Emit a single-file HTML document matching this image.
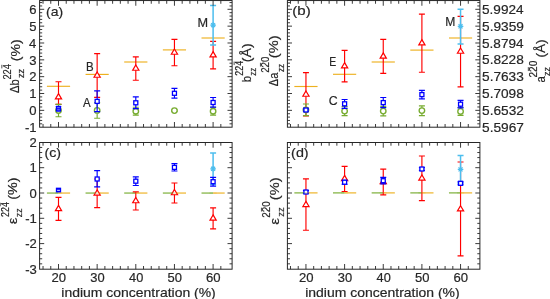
<!DOCTYPE html>
<html><head><meta charset="utf-8"><title>chart</title><style>html,body{margin:0;padding:0;background:#fff;}body{width:550px;height:299px;overflow:hidden;position:relative;font-family:"Liberation Sans", sans-serif;}</style></head><body>
<svg width="550" height="299" viewBox="0 0 550 299" style="position:absolute;left:0;top:0;will-change:transform" font-family='"Liberation Sans", sans-serif' fill="#262626">
<style>text{stroke:#262626;stroke-width:0.18px;}</style>
<rect width="550" height="299" fill="#fff"/>
<path d="M46.90 86.30H70.10" stroke="#edb120" stroke-width="1.15"/>
<path d="M85.55 74.40H108.75" stroke="#edb120" stroke-width="1.15"/>
<path d="M124.20 62.00H147.40" stroke="#edb120" stroke-width="1.15"/>
<path d="M162.85 49.90H186.05" stroke="#edb120" stroke-width="1.15"/>
<path d="M201.50 38.00H224.70" stroke="#edb120" stroke-width="1.15"/>
<path d="M58.50 81.70V104.30M55.50 81.70h6.0M55.50 104.30h6.0" stroke="#ff0000" stroke-width="1.15" fill="none"/>
<path d="M97.15 53.60V97.40M94.15 53.60h6.0M94.15 97.40h6.0" stroke="#ff0000" stroke-width="1.15" fill="none"/>
<path d="M135.80 56.80V80.20M132.80 56.80h6.0M132.80 80.20h6.0" stroke="#ff0000" stroke-width="1.15" fill="none"/>
<path d="M174.45 39.40V65.70M171.45 39.40h6.0M171.45 65.70h6.0" stroke="#ff0000" stroke-width="1.15" fill="none"/>
<path d="M213.10 41.40V68.90M210.10 41.40h6.0M210.10 68.90h6.0" stroke="#ff0000" stroke-width="1.15" fill="none"/>
<path d="M58.50 93.63L61.60 98.83H55.40Z" stroke="#ff0000" stroke-width="1.2" fill="#fff" stroke-linejoin="miter"/>
<path d="M97.15 72.03L100.25 77.23H94.05Z" stroke="#ff0000" stroke-width="1.2" fill="#fff" stroke-linejoin="miter"/>
<path d="M135.80 65.03L138.90 70.23H132.70Z" stroke="#ff0000" stroke-width="1.2" fill="#fff" stroke-linejoin="miter"/>
<path d="M174.45 49.03L177.55 54.23H171.35Z" stroke="#ff0000" stroke-width="1.2" fill="#fff" stroke-linejoin="miter"/>
<path d="M213.10 51.68L216.20 56.88H210.00Z" stroke="#ff0000" stroke-width="1.2" fill="#fff" stroke-linejoin="miter"/>
<path d="M213.10 5.50V44.90M210.10 5.50h6.0M210.10 44.90h6.0" stroke="#4dbeee" stroke-width="1.5" fill="none"/>
<path d="M210.30 25.10h5.60M213.10 22.30v5.60M211.08 23.08l4.03 4.03M211.08 27.12l4.03 -4.03" stroke="#4dbeee" stroke-width="1.2"/>
<path d="M58.50 104.30V116.70M55.50 104.30h6.0M55.50 116.70h6.0" stroke="#77ac30" stroke-width="1.15" fill="none"/>
<circle cx="58.50" cy="110.50" r="2.75" stroke="#77ac30" stroke-width="1.35" fill="#fff"/>
<path d="M97.15 102.60V118.20M94.15 102.60h6.0M94.15 118.20h6.0" stroke="#77ac30" stroke-width="1.15" fill="none"/>
<circle cx="97.15" cy="110.40" r="2.75" stroke="#77ac30" stroke-width="1.35" fill="#fff"/>
<path d="M135.80 107.20V115.10M132.80 107.20h6.0M132.80 115.10h6.0" stroke="#77ac30" stroke-width="1.15" fill="none"/>
<circle cx="135.80" cy="111.20" r="2.75" stroke="#77ac30" stroke-width="1.35" fill="#fff"/>
<path d="M174.45 109.80V111.40M171.45 109.80h6.0M171.45 111.40h6.0" stroke="#77ac30" stroke-width="1.15" fill="none"/>
<circle cx="174.45" cy="110.60" r="2.75" stroke="#77ac30" stroke-width="1.35" fill="#fff"/>
<path d="M213.10 107.20V115.10M210.10 107.20h6.0M210.10 115.10h6.0" stroke="#77ac30" stroke-width="1.15" fill="none"/>
<circle cx="213.10" cy="111.20" r="2.75" stroke="#77ac30" stroke-width="1.35" fill="#fff"/>
<rect x="55.85" y="105.70" width="5.3" height="6.0" rx="0.6" fill="#0000ff"/>
<path d="M57.20 107.70h2.6M57.20 109.80h2.6" stroke="#a0a0ff" stroke-width="0.8"/>
<path d="M97.15 90.80V111.60M94.15 90.80h6.0M94.15 111.60h6.0" stroke="#0000ff" stroke-width="1.15" fill="none"/>
<rect x="95.15" y="99.40" width="4.0" height="4.0" stroke="#0000ff" stroke-width="1.3" fill="#fff"/>
<path d="M135.80 96.80V108.60M132.80 96.80h6.0M132.80 108.60h6.0" stroke="#0000ff" stroke-width="1.15" fill="none"/>
<rect x="133.80" y="100.80" width="4.0" height="4.0" stroke="#0000ff" stroke-width="1.3" fill="#fff"/>
<path d="M174.45 88.40V98.10M171.45 88.40h6.0M171.45 98.10h6.0" stroke="#0000ff" stroke-width="1.15" fill="none"/>
<rect x="172.45" y="91.30" width="4.0" height="4.0" stroke="#0000ff" stroke-width="1.3" fill="#fff"/>
<path d="M213.10 97.50V107.10M210.10 97.50h6.0M210.10 107.10h6.0" stroke="#0000ff" stroke-width="1.15" fill="none"/>
<rect x="211.10" y="100.50" width="4.0" height="4.0" stroke="#0000ff" stroke-width="1.3" fill="#fff"/>
<rect x="39.6" y="0.55" width="192.50" height="126.65" fill="none" stroke="#262626" stroke-width="1.0"/>
<path d="M43.04 127.20v-3.2M43.04 0.55v3.2M50.77 127.20v-3.2M50.77 0.55v3.2M58.50 127.20v-5.2M58.50 0.55v5.2M66.23 127.20v-3.2M66.23 0.55v3.2M73.96 127.20v-3.2M73.96 0.55v3.2M81.69 127.20v-3.2M81.69 0.55v3.2M89.42 127.20v-3.2M89.42 0.55v3.2M97.15 127.20v-5.2M97.15 0.55v5.2M104.88 127.20v-3.2M104.88 0.55v3.2M112.61 127.20v-3.2M112.61 0.55v3.2M120.34 127.20v-3.2M120.34 0.55v3.2M128.07 127.20v-3.2M128.07 0.55v3.2M135.80 127.20v-5.2M135.80 0.55v5.2M143.53 127.20v-3.2M143.53 0.55v3.2M151.26 127.20v-3.2M151.26 0.55v3.2M158.99 127.20v-3.2M158.99 0.55v3.2M166.72 127.20v-3.2M166.72 0.55v3.2M174.45 127.20v-5.2M174.45 0.55v5.2M182.18 127.20v-3.2M182.18 0.55v3.2M189.91 127.20v-3.2M189.91 0.55v3.2M197.64 127.20v-3.2M197.64 0.55v3.2M205.37 127.20v-3.2M205.37 0.55v3.2M213.10 127.20v-5.2M213.10 0.55v5.2M220.83 127.20v-3.2M220.83 0.55v3.2M39.60 123.82h2.6M232.10 123.82h-2.6M39.60 120.45h2.6M232.10 120.45h-2.6M39.60 117.09h2.6M232.10 117.09h-2.6M39.60 113.72h2.6M232.10 113.72h-2.6M39.60 110.35h4.6M232.10 110.35h-4.6M39.60 106.98h2.6M232.10 106.98h-2.6M39.60 103.61h2.6M232.10 103.61h-2.6M39.60 100.25h2.6M232.10 100.25h-2.6M39.60 96.88h2.6M232.10 96.88h-2.6M39.60 93.51h4.6M232.10 93.51h-4.6M39.60 90.14h2.6M232.10 90.14h-2.6M39.60 86.77h2.6M232.10 86.77h-2.6M39.60 83.41h2.6M232.10 83.41h-2.6M39.60 80.04h2.6M232.10 80.04h-2.6M39.60 76.67h4.6M232.10 76.67h-4.6M39.60 73.30h2.6M232.10 73.30h-2.6M39.60 69.93h2.6M232.10 69.93h-2.6M39.60 66.57h2.6M232.10 66.57h-2.6M39.60 63.20h2.6M232.10 63.20h-2.6M39.60 59.83h4.6M232.10 59.83h-4.6M39.60 56.46h2.6M232.10 56.46h-2.6M39.60 53.09h2.6M232.10 53.09h-2.6M39.60 49.73h2.6M232.10 49.73h-2.6M39.60 46.36h2.6M232.10 46.36h-2.6M39.60 42.99h4.6M232.10 42.99h-4.6M39.60 39.62h2.6M232.10 39.62h-2.6M39.60 36.25h2.6M232.10 36.25h-2.6M39.60 32.89h2.6M232.10 32.89h-2.6M39.60 29.52h2.6M232.10 29.52h-2.6M39.60 26.15h4.6M232.10 26.15h-4.6M39.60 22.78h2.6M232.10 22.78h-2.6M39.60 19.41h2.6M232.10 19.41h-2.6M39.60 16.05h2.6M232.10 16.05h-2.6M39.60 12.68h2.6M232.10 12.68h-2.6M39.60 9.31h4.6M232.10 9.31h-4.6M39.60 5.94h2.6M232.10 5.94h-2.6M39.60 2.57h2.6M232.10 2.57h-2.6" stroke="#262626" stroke-width="0.9" fill="none"/>
<path d="M294.35 86.50H317.55" stroke="#edb120" stroke-width="1.15"/>
<path d="M333.00 74.30H356.20" stroke="#edb120" stroke-width="1.15"/>
<path d="M371.65 62.00H394.85" stroke="#edb120" stroke-width="1.15"/>
<path d="M410.30 50.10H433.50" stroke="#edb120" stroke-width="1.15"/>
<path d="M448.95 38.00H472.15" stroke="#edb120" stroke-width="1.15"/>
<path d="M305.95 72.60V116.00M302.95 72.60h6.0M302.95 116.00h6.0" stroke="#ff0000" stroke-width="1.15" fill="none"/>
<path d="M344.60 50.40V81.80M341.60 50.40h6.0M341.60 81.80h6.0" stroke="#ff0000" stroke-width="1.15" fill="none"/>
<path d="M383.25 39.40V73.40M380.25 39.40h6.0M380.25 73.40h6.0" stroke="#ff0000" stroke-width="1.15" fill="none"/>
<path d="M421.90 14.10V72.20M418.90 14.10h6.0M418.90 72.20h6.0" stroke="#ff0000" stroke-width="1.15" fill="none"/>
<path d="M460.55 16.30V86.80M457.55 16.30h6.0M457.55 86.80h6.0" stroke="#ff0000" stroke-width="1.15" fill="none"/>
<path d="M305.95 91.03L309.05 96.23H302.85Z" stroke="#ff0000" stroke-width="1.2" fill="#fff" stroke-linejoin="miter"/>
<path d="M344.60 62.63L347.70 67.83H341.50Z" stroke="#ff0000" stroke-width="1.2" fill="#fff" stroke-linejoin="miter"/>
<path d="M383.25 52.93L386.35 58.13H380.15Z" stroke="#ff0000" stroke-width="1.2" fill="#fff" stroke-linejoin="miter"/>
<path d="M421.90 39.68L425.00 44.88H418.80Z" stroke="#ff0000" stroke-width="1.2" fill="#fff" stroke-linejoin="miter"/>
<path d="M460.55 48.03L463.65 53.23H457.45Z" stroke="#ff0000" stroke-width="1.2" fill="#fff" stroke-linejoin="miter"/>
<path d="M460.55 9.30V43.90M457.55 9.30h6.0M457.55 43.90h6.0" stroke="#4dbeee" stroke-width="1.5" fill="none"/>
<path d="M457.75 26.30h5.60M460.55 23.50v5.60M458.53 24.28l4.03 4.03M458.53 28.32l4.03 -4.03" stroke="#4dbeee" stroke-width="1.2"/>
<path d="M305.95 104.00V115.60M302.95 104.00h6.0M302.95 115.60h6.0" stroke="#77ac30" stroke-width="1.15" fill="none"/>
<circle cx="305.95" cy="109.80" r="2.75" stroke="#77ac30" stroke-width="1.35" fill="#fff"/>
<path d="M344.60 106.60V115.60M341.60 106.60h6.0M341.60 115.60h6.0" stroke="#77ac30" stroke-width="1.15" fill="none"/>
<circle cx="344.60" cy="111.10" r="2.75" stroke="#77ac30" stroke-width="1.35" fill="#fff"/>
<path d="M383.25 106.30V115.90M380.25 106.30h6.0M380.25 115.90h6.0" stroke="#77ac30" stroke-width="1.15" fill="none"/>
<circle cx="383.25" cy="111.10" r="2.75" stroke="#77ac30" stroke-width="1.35" fill="#fff"/>
<path d="M421.90 105.80V115.60M418.90 105.80h6.0M418.90 115.60h6.0" stroke="#77ac30" stroke-width="1.15" fill="none"/>
<circle cx="421.90" cy="110.60" r="2.75" stroke="#77ac30" stroke-width="1.35" fill="#fff"/>
<path d="M460.55 107.50V115.30M457.55 107.50h6.0M457.55 115.30h6.0" stroke="#77ac30" stroke-width="1.15" fill="none"/>
<circle cx="460.55" cy="111.40" r="2.75" stroke="#77ac30" stroke-width="1.35" fill="#fff"/>
<path d="M305.95 108.80V111.20M302.95 108.80h6.0M302.95 111.20h6.0" stroke="#0000ff" stroke-width="1.15" fill="none"/>
<rect x="303.95" y="108.00" width="4.0" height="4.0" stroke="#0000ff" stroke-width="1.3" fill="#fff"/>
<path d="M344.60 99.50V108.30M341.60 99.50h6.0M341.60 108.30h6.0" stroke="#0000ff" stroke-width="1.15" fill="none"/>
<rect x="342.60" y="101.80" width="4.0" height="4.0" stroke="#0000ff" stroke-width="1.3" fill="#fff"/>
<path d="M383.25 97.50V107.60M380.25 97.50h6.0M380.25 107.60h6.0" stroke="#0000ff" stroke-width="1.15" fill="none"/>
<rect x="381.25" y="100.60" width="4.0" height="4.0" stroke="#0000ff" stroke-width="1.3" fill="#fff"/>
<path d="M421.90 90.30V98.80M418.90 90.30h6.0M418.90 98.80h6.0" stroke="#0000ff" stroke-width="1.15" fill="none"/>
<rect x="419.90" y="92.60" width="4.0" height="4.0" stroke="#0000ff" stroke-width="1.3" fill="#fff"/>
<path d="M460.55 100.40V107.80M457.55 100.40h6.0M457.55 107.80h6.0" stroke="#0000ff" stroke-width="1.15" fill="none"/>
<rect x="458.55" y="102.20" width="4.0" height="4.0" stroke="#0000ff" stroke-width="1.3" fill="#fff"/>
<rect x="287.4" y="0.55" width="192.50" height="126.65" fill="none" stroke="#262626" stroke-width="1.0"/>
<path d="M290.49 127.20v-3.2M290.49 0.55v3.2M298.22 127.20v-3.2M298.22 0.55v3.2M305.95 127.20v-5.2M305.95 0.55v5.2M313.68 127.20v-3.2M313.68 0.55v3.2M321.41 127.20v-3.2M321.41 0.55v3.2M329.14 127.20v-3.2M329.14 0.55v3.2M336.87 127.20v-3.2M336.87 0.55v3.2M344.60 127.20v-5.2M344.60 0.55v5.2M352.33 127.20v-3.2M352.33 0.55v3.2M360.06 127.20v-3.2M360.06 0.55v3.2M367.79 127.20v-3.2M367.79 0.55v3.2M375.52 127.20v-3.2M375.52 0.55v3.2M383.25 127.20v-5.2M383.25 0.55v5.2M390.98 127.20v-3.2M390.98 0.55v3.2M398.71 127.20v-3.2M398.71 0.55v3.2M406.44 127.20v-3.2M406.44 0.55v3.2M414.17 127.20v-3.2M414.17 0.55v3.2M421.90 127.20v-5.2M421.90 0.55v5.2M429.63 127.20v-3.2M429.63 0.55v3.2M437.36 127.20v-3.2M437.36 0.55v3.2M445.09 127.20v-3.2M445.09 0.55v3.2M452.82 127.20v-3.2M452.82 0.55v3.2M460.55 127.20v-5.2M460.55 0.55v5.2M468.28 127.20v-3.2M468.28 0.55v3.2M287.40 123.82h2.6M479.90 123.82h-2.6M287.40 120.45h2.6M479.90 120.45h-2.6M287.40 117.09h2.6M479.90 117.09h-2.6M287.40 113.72h2.6M479.90 113.72h-2.6M287.40 110.35h4.6M479.90 110.35h-4.6M287.40 106.98h2.6M479.90 106.98h-2.6M287.40 103.61h2.6M479.90 103.61h-2.6M287.40 100.25h2.6M479.90 100.25h-2.6M287.40 96.88h2.6M479.90 96.88h-2.6M287.40 93.51h4.6M479.90 93.51h-4.6M287.40 90.14h2.6M479.90 90.14h-2.6M287.40 86.77h2.6M479.90 86.77h-2.6M287.40 83.41h2.6M479.90 83.41h-2.6M287.40 80.04h2.6M479.90 80.04h-2.6M287.40 76.67h4.6M479.90 76.67h-4.6M287.40 73.30h2.6M479.90 73.30h-2.6M287.40 69.93h2.6M479.90 69.93h-2.6M287.40 66.57h2.6M479.90 66.57h-2.6M287.40 63.20h2.6M479.90 63.20h-2.6M287.40 59.83h4.6M479.90 59.83h-4.6M287.40 56.46h2.6M479.90 56.46h-2.6M287.40 53.09h2.6M479.90 53.09h-2.6M287.40 49.73h2.6M479.90 49.73h-2.6M287.40 46.36h2.6M479.90 46.36h-2.6M287.40 42.99h4.6M479.90 42.99h-4.6M287.40 39.62h2.6M479.90 39.62h-2.6M287.40 36.25h2.6M479.90 36.25h-2.6M287.40 32.89h2.6M479.90 32.89h-2.6M287.40 29.52h2.6M479.90 29.52h-2.6M287.40 26.15h4.6M479.90 26.15h-4.6M287.40 22.78h2.6M479.90 22.78h-2.6M287.40 19.41h2.6M479.90 19.41h-2.6M287.40 16.05h2.6M479.90 16.05h-2.6M287.40 12.68h2.6M479.90 12.68h-2.6M287.40 9.31h4.6M479.90 9.31h-4.6M287.40 5.94h2.6M479.90 5.94h-2.6M287.40 2.57h2.6M479.90 2.57h-2.6" stroke="#262626" stroke-width="0.9" fill="none"/>
<path d="M46.90 193.05H58.50" stroke="#77ac30" stroke-width="1.15"/>
<path d="M58.50 193.05H70.10" stroke="#edb120" stroke-width="1.15"/>
<path d="M85.55 193.05H97.15" stroke="#77ac30" stroke-width="1.15"/>
<path d="M97.15 193.05H108.75" stroke="#edb120" stroke-width="1.15"/>
<path d="M124.20 193.05H135.80" stroke="#77ac30" stroke-width="1.15"/>
<path d="M135.80 193.05H147.40" stroke="#edb120" stroke-width="1.15"/>
<path d="M162.85 193.05H174.45" stroke="#77ac30" stroke-width="1.15"/>
<path d="M174.45 193.05H186.05" stroke="#edb120" stroke-width="1.15"/>
<path d="M201.50 193.05H213.10" stroke="#77ac30" stroke-width="1.15"/>
<path d="M213.10 193.05H224.70" stroke="#edb120" stroke-width="1.15"/>
<path d="M58.50 197.30V220.40M55.50 197.30h6.0M55.50 220.40h6.0" stroke="#ff0000" stroke-width="1.15" fill="none"/>
<path d="M97.15 179.00V207.60M94.15 179.00h6.0M94.15 207.60h6.0" stroke="#ff0000" stroke-width="1.15" fill="none"/>
<path d="M135.80 191.90V210.00M132.80 191.90h6.0M132.80 210.00h6.0" stroke="#ff0000" stroke-width="1.15" fill="none"/>
<path d="M174.45 183.00V203.00M171.45 183.00h6.0M171.45 203.00h6.0" stroke="#ff0000" stroke-width="1.15" fill="none"/>
<path d="M213.10 207.80V228.90M210.10 207.80h6.0M210.10 228.90h6.0" stroke="#ff0000" stroke-width="1.15" fill="none"/>
<path d="M58.50 205.38L61.60 210.58H55.40Z" stroke="#ff0000" stroke-width="1.2" fill="#fff" stroke-linejoin="miter"/>
<path d="M97.15 189.83L100.25 195.03H94.05Z" stroke="#ff0000" stroke-width="1.2" fill="#fff" stroke-linejoin="miter"/>
<path d="M135.80 197.53L138.90 202.73H132.70Z" stroke="#ff0000" stroke-width="1.2" fill="#fff" stroke-linejoin="miter"/>
<path d="M174.45 189.53L177.55 194.73H171.35Z" stroke="#ff0000" stroke-width="1.2" fill="#fff" stroke-linejoin="miter"/>
<path d="M213.10 214.88L216.20 220.08H210.00Z" stroke="#ff0000" stroke-width="1.2" fill="#fff" stroke-linejoin="miter"/>
<path d="M213.10 153.00V184.60M210.10 153.00h6.0M210.10 184.60h6.0" stroke="#4dbeee" stroke-width="1.5" fill="none"/>
<path d="M210.30 168.80h5.60M213.10 166.00v5.60M211.08 166.78l4.03 4.03M211.08 170.82l4.03 -4.03" stroke="#4dbeee" stroke-width="1.2"/>
<rect x="55.85" y="187.65" width="5.3" height="4.9" fill="#0000ff"/>
<path d="M57.10 190.30h2.8" stroke="#fff" stroke-width="0.9"/>
<path d="M97.15 170.60V186.90M94.15 170.60h6.0M94.15 186.90h6.0" stroke="#0000ff" stroke-width="1.15" fill="none"/>
<rect x="95.15" y="177.00" width="4.0" height="4.0" stroke="#0000ff" stroke-width="1.3" fill="#fff"/>
<path d="M135.80 176.80V185.50M132.80 176.80h6.0M132.80 185.50h6.0" stroke="#0000ff" stroke-width="1.15" fill="none"/>
<rect x="133.80" y="179.20" width="4.0" height="4.0" stroke="#0000ff" stroke-width="1.3" fill="#fff"/>
<path d="M174.45 163.60V171.00M171.45 163.60h6.0M171.45 171.00h6.0" stroke="#0000ff" stroke-width="1.15" fill="none"/>
<rect x="172.45" y="165.40" width="4.0" height="4.0" stroke="#0000ff" stroke-width="1.3" fill="#fff"/>
<path d="M213.10 177.40V186.10M210.10 177.40h6.0M210.10 186.10h6.0" stroke="#0000ff" stroke-width="1.15" fill="none"/>
<rect x="211.10" y="179.70" width="4.0" height="4.0" stroke="#0000ff" stroke-width="1.3" fill="#fff"/>
<g opacity="0.4"><path d="M54.90 193.05H58.50" stroke="#77ac30" stroke-width="1.1"/><path d="M58.50 193.05H62.10" stroke="#edb120" stroke-width="1.1"/></g>
<g opacity="0.4"><path d="M93.55 193.05H97.15" stroke="#77ac30" stroke-width="1.1"/><path d="M97.15 193.05H100.75" stroke="#edb120" stroke-width="1.1"/></g>
<g opacity="0.4"><path d="M132.20 193.05H135.80" stroke="#77ac30" stroke-width="1.1"/><path d="M135.80 193.05H139.40" stroke="#edb120" stroke-width="1.1"/></g>
<g opacity="0.4"><path d="M170.85 193.05H174.45" stroke="#77ac30" stroke-width="1.1"/><path d="M174.45 193.05H178.05" stroke="#edb120" stroke-width="1.1"/></g>
<g opacity="0.4"><path d="M209.50 193.05H213.10" stroke="#77ac30" stroke-width="1.1"/><path d="M213.10 193.05H216.70" stroke="#edb120" stroke-width="1.1"/></g>
<rect x="39.6" y="142.5" width="192.50" height="126.70" fill="none" stroke="#262626" stroke-width="1.0"/>
<path d="M43.04 269.20v-3.2M43.04 142.50v3.2M50.77 269.20v-3.2M50.77 142.50v3.2M58.50 269.20v-5.2M58.50 142.50v5.2M66.23 269.20v-3.2M66.23 142.50v3.2M73.96 269.20v-3.2M73.96 142.50v3.2M81.69 269.20v-3.2M81.69 142.50v3.2M89.42 269.20v-3.2M89.42 142.50v3.2M97.15 269.20v-5.2M97.15 142.50v5.2M104.88 269.20v-3.2M104.88 142.50v3.2M112.61 269.20v-3.2M112.61 142.50v3.2M120.34 269.20v-3.2M120.34 142.50v3.2M128.07 269.20v-3.2M128.07 142.50v3.2M135.80 269.20v-5.2M135.80 142.50v5.2M143.53 269.20v-3.2M143.53 142.50v3.2M151.26 269.20v-3.2M151.26 142.50v3.2M158.99 269.20v-3.2M158.99 142.50v3.2M166.72 269.20v-3.2M166.72 142.50v3.2M174.45 269.20v-5.2M174.45 142.50v5.2M182.18 269.20v-3.2M182.18 142.50v3.2M189.91 269.20v-3.2M189.91 142.50v3.2M197.64 269.20v-3.2M197.64 142.50v3.2M205.37 269.20v-3.2M205.37 142.50v3.2M213.10 269.20v-5.2M213.10 142.50v5.2M220.83 269.20v-3.2M220.83 142.50v3.2M39.60 263.84h2.6M232.10 263.84h-2.6M39.60 258.78h2.6M232.10 258.78h-2.6M39.60 253.72h2.6M232.10 253.72h-2.6M39.60 248.66h2.6M232.10 248.66h-2.6M39.60 243.60h4.6M232.10 243.60h-4.6M39.60 238.54h2.6M232.10 238.54h-2.6M39.60 233.48h2.6M232.10 233.48h-2.6M39.60 228.42h2.6M232.10 228.42h-2.6M39.60 223.36h2.6M232.10 223.36h-2.6M39.60 218.30h4.6M232.10 218.30h-4.6M39.60 213.24h2.6M232.10 213.24h-2.6M39.60 208.18h2.6M232.10 208.18h-2.6M39.60 203.12h2.6M232.10 203.12h-2.6M39.60 198.06h2.6M232.10 198.06h-2.6M39.60 193.00h4.6M232.10 193.00h-4.6M39.60 187.94h2.6M232.10 187.94h-2.6M39.60 182.88h2.6M232.10 182.88h-2.6M39.60 177.82h2.6M232.10 177.82h-2.6M39.60 172.76h2.6M232.10 172.76h-2.6M39.60 167.70h4.6M232.10 167.70h-4.6M39.60 162.64h2.6M232.10 162.64h-2.6M39.60 157.58h2.6M232.10 157.58h-2.6M39.60 152.52h2.6M232.10 152.52h-2.6M39.60 147.46h2.6M232.10 147.46h-2.6" stroke="#262626" stroke-width="0.9" fill="none"/>
<path d="M294.35 192.90H305.95" stroke="#77ac30" stroke-width="1.15"/>
<path d="M305.95 192.90H317.55" stroke="#edb120" stroke-width="1.15"/>
<path d="M333.00 192.90H344.60" stroke="#77ac30" stroke-width="1.15"/>
<path d="M344.60 192.90H356.20" stroke="#edb120" stroke-width="1.15"/>
<path d="M371.65 192.90H383.25" stroke="#77ac30" stroke-width="1.15"/>
<path d="M383.25 192.90H394.85" stroke="#edb120" stroke-width="1.15"/>
<path d="M410.30 192.90H421.90" stroke="#77ac30" stroke-width="1.15"/>
<path d="M421.90 192.90H433.50" stroke="#edb120" stroke-width="1.15"/>
<path d="M448.95 192.90H460.55" stroke="#77ac30" stroke-width="1.15"/>
<path d="M460.55 192.90H472.15" stroke="#edb120" stroke-width="1.15"/>
<path d="M305.95 178.90V230.20M302.95 178.90h6.0M302.95 230.20h6.0" stroke="#ff0000" stroke-width="1.15" fill="none"/>
<path d="M344.60 166.30V191.50M341.60 166.30h6.0M341.60 191.50h6.0" stroke="#ff0000" stroke-width="1.15" fill="none"/>
<path d="M383.25 169.10V194.80M380.25 169.10h6.0M380.25 194.80h6.0" stroke="#ff0000" stroke-width="1.15" fill="none"/>
<path d="M421.90 156.00V200.60M418.90 156.00h6.0M418.90 200.60h6.0" stroke="#ff0000" stroke-width="1.15" fill="none"/>
<path d="M460.55 162.00V255.80M457.55 162.00h6.0M457.55 255.80h6.0" stroke="#ff0000" stroke-width="1.15" fill="none"/>
<path d="M305.95 201.33L309.05 206.53H302.85Z" stroke="#ff0000" stroke-width="1.2" fill="#fff" stroke-linejoin="miter"/>
<path d="M344.60 175.43L347.70 180.63H341.50Z" stroke="#ff0000" stroke-width="1.2" fill="#fff" stroke-linejoin="miter"/>
<path d="M383.25 178.48L386.35 183.68H380.15Z" stroke="#ff0000" stroke-width="1.2" fill="#fff" stroke-linejoin="miter"/>
<path d="M421.90 174.83L425.00 180.03H418.80Z" stroke="#ff0000" stroke-width="1.2" fill="#fff" stroke-linejoin="miter"/>
<path d="M460.55 205.73L463.65 210.93H457.45Z" stroke="#ff0000" stroke-width="1.2" fill="#fff" stroke-linejoin="miter"/>
<path d="M460.55 155.60V183.20M457.55 155.60h6.0M457.55 183.20h6.0" stroke="#4dbeee" stroke-width="1.5" fill="none"/>
<path d="M457.75 169.40h5.60M460.55 166.60v5.60M458.53 167.38l4.03 4.03M458.53 171.42l4.03 -4.03" stroke="#4dbeee" stroke-width="1.2"/>
<path d="M305.95 190.60V193.40M302.95 190.60h6.0M302.95 193.40h6.0" stroke="#0000ff" stroke-width="1.15" fill="none"/>
<rect x="303.95" y="190.00" width="4.0" height="4.0" stroke="#0000ff" stroke-width="1.3" fill="#fff"/>
<path d="M344.60 180.20V184.20M341.60 180.20h6.0M341.60 184.20h6.0" stroke="#0000ff" stroke-width="1.15" fill="none"/>
<rect x="342.60" y="180.20" width="4.0" height="4.0" stroke="#0000ff" stroke-width="1.3" fill="#fff"/>
<path d="M383.25 177.40V183.80M380.25 177.40h6.0M380.25 183.80h6.0" stroke="#0000ff" stroke-width="1.15" fill="none"/>
<rect x="381.25" y="178.70" width="4.0" height="4.0" stroke="#0000ff" stroke-width="1.3" fill="#fff"/>
<path d="M421.90 167.60V170.40M418.90 167.60h6.0M418.90 170.40h6.0" stroke="#0000ff" stroke-width="1.15" fill="none"/>
<rect x="419.90" y="167.00" width="4.0" height="4.0" stroke="#0000ff" stroke-width="1.3" fill="#fff"/>
<path d="M460.55 181.90V184.70M457.55 181.90h6.0M457.55 184.70h6.0" stroke="#0000ff" stroke-width="1.15" fill="none"/>
<rect x="458.55" y="181.30" width="4.0" height="4.0" stroke="#0000ff" stroke-width="1.3" fill="#fff"/>
<g opacity="0.4"><path d="M302.35 192.90H305.95" stroke="#77ac30" stroke-width="1.1"/><path d="M305.95 192.90H309.55" stroke="#edb120" stroke-width="1.1"/></g>
<g opacity="0.4"><path d="M341.00 192.90H344.60" stroke="#77ac30" stroke-width="1.1"/><path d="M344.60 192.90H348.20" stroke="#edb120" stroke-width="1.1"/></g>
<g opacity="0.4"><path d="M379.65 192.90H383.25" stroke="#77ac30" stroke-width="1.1"/><path d="M383.25 192.90H386.85" stroke="#edb120" stroke-width="1.1"/></g>
<g opacity="0.4"><path d="M418.30 192.90H421.90" stroke="#77ac30" stroke-width="1.1"/><path d="M421.90 192.90H425.50" stroke="#edb120" stroke-width="1.1"/></g>
<g opacity="0.4"><path d="M456.95 192.90H460.55" stroke="#77ac30" stroke-width="1.1"/><path d="M460.55 192.90H464.15" stroke="#edb120" stroke-width="1.1"/></g>
<rect x="287.4" y="142.5" width="192.50" height="126.70" fill="none" stroke="#262626" stroke-width="1.0"/>
<path d="M290.49 269.20v-3.2M290.49 142.50v3.2M298.22 269.20v-3.2M298.22 142.50v3.2M305.95 269.20v-5.2M305.95 142.50v5.2M313.68 269.20v-3.2M313.68 142.50v3.2M321.41 269.20v-3.2M321.41 142.50v3.2M329.14 269.20v-3.2M329.14 142.50v3.2M336.87 269.20v-3.2M336.87 142.50v3.2M344.60 269.20v-5.2M344.60 142.50v5.2M352.33 269.20v-3.2M352.33 142.50v3.2M360.06 269.20v-3.2M360.06 142.50v3.2M367.79 269.20v-3.2M367.79 142.50v3.2M375.52 269.20v-3.2M375.52 142.50v3.2M383.25 269.20v-5.2M383.25 142.50v5.2M390.98 269.20v-3.2M390.98 142.50v3.2M398.71 269.20v-3.2M398.71 142.50v3.2M406.44 269.20v-3.2M406.44 142.50v3.2M414.17 269.20v-3.2M414.17 142.50v3.2M421.90 269.20v-5.2M421.90 142.50v5.2M429.63 269.20v-3.2M429.63 142.50v3.2M437.36 269.20v-3.2M437.36 142.50v3.2M445.09 269.20v-3.2M445.09 142.50v3.2M452.82 269.20v-3.2M452.82 142.50v3.2M460.55 269.20v-5.2M460.55 142.50v5.2M468.28 269.20v-3.2M468.28 142.50v3.2M287.40 263.84h2.6M479.90 263.84h-2.6M287.40 258.78h2.6M479.90 258.78h-2.6M287.40 253.72h2.6M479.90 253.72h-2.6M287.40 248.66h2.6M479.90 248.66h-2.6M287.40 243.60h4.6M479.90 243.60h-4.6M287.40 238.54h2.6M479.90 238.54h-2.6M287.40 233.48h2.6M479.90 233.48h-2.6M287.40 228.42h2.6M479.90 228.42h-2.6M287.40 223.36h2.6M479.90 223.36h-2.6M287.40 218.30h4.6M479.90 218.30h-4.6M287.40 213.24h2.6M479.90 213.24h-2.6M287.40 208.18h2.6M479.90 208.18h-2.6M287.40 203.12h2.6M479.90 203.12h-2.6M287.40 198.06h2.6M479.90 198.06h-2.6M287.40 193.00h4.6M479.90 193.00h-4.6M287.40 187.94h2.6M479.90 187.94h-2.6M287.40 182.88h2.6M479.90 182.88h-2.6M287.40 177.82h2.6M479.90 177.82h-2.6M287.40 172.76h2.6M479.90 172.76h-2.6M287.40 167.70h4.6M479.90 167.70h-4.6M287.40 162.64h2.6M479.90 162.64h-2.6M287.40 157.58h2.6M479.90 157.58h-2.6M287.40 152.52h2.6M479.90 152.52h-2.6M287.40 147.46h2.6M479.90 147.46h-2.6" stroke="#262626" stroke-width="0.9" fill="none"/>
<text x="29.30" y="14.04" font-size="12.0" textLength="7.27" lengthAdjust="spacingAndGlyphs">6</text>
<text x="29.28" y="30.88" font-size="12.0" textLength="7.27" lengthAdjust="spacingAndGlyphs">5</text>
<text x="29.11" y="47.72" font-size="12.0" textLength="7.27" lengthAdjust="spacingAndGlyphs">4</text>
<text x="29.30" y="64.56" font-size="12.0" textLength="7.27" lengthAdjust="spacingAndGlyphs">3</text>
<text x="29.38" y="81.40" font-size="12.0" textLength="7.27" lengthAdjust="spacingAndGlyphs">2</text>
<text x="29.37" y="98.24" font-size="12.0" textLength="7.27" lengthAdjust="spacingAndGlyphs">1</text>
<text x="29.24" y="115.08" font-size="12.0" textLength="7.27" lengthAdjust="spacingAndGlyphs">0</text>
<text x="25.01" y="131.92" font-size="12.0" textLength="11.63" lengthAdjust="spacingAndGlyphs">-1</text>
<text x="29.58" y="147.03" font-size="12.0" textLength="7.27" lengthAdjust="spacingAndGlyphs">2</text>
<text x="29.57" y="172.33" font-size="12.0" textLength="7.27" lengthAdjust="spacingAndGlyphs">1</text>
<text x="29.44" y="197.63" font-size="12.0" textLength="7.27" lengthAdjust="spacingAndGlyphs">0</text>
<text x="25.21" y="222.93" font-size="12.0" textLength="11.63" lengthAdjust="spacingAndGlyphs">-1</text>
<text x="25.23" y="248.23" font-size="12.0" textLength="11.63" lengthAdjust="spacingAndGlyphs">-2</text>
<text x="25.15" y="273.53" font-size="12.0" textLength="11.63" lengthAdjust="spacingAndGlyphs">-3</text>
<text x="51.45" y="281.60" font-size="12.3" textLength="14.57" lengthAdjust="spacingAndGlyphs">20</text>
<text x="90.26" y="281.60" font-size="12.3" textLength="14.40" lengthAdjust="spacingAndGlyphs">30</text>
<text x="129.11" y="281.60" font-size="12.3" textLength="14.20" lengthAdjust="spacingAndGlyphs">40</text>
<text x="167.53" y="281.60" font-size="12.3" textLength="14.43" lengthAdjust="spacingAndGlyphs">50</text>
<text x="206.03" y="281.60" font-size="12.3" textLength="14.58" lengthAdjust="spacingAndGlyphs">60</text>
<text x="298.90" y="281.60" font-size="12.3" textLength="14.57" lengthAdjust="spacingAndGlyphs">20</text>
<text x="337.71" y="281.60" font-size="12.3" textLength="14.40" lengthAdjust="spacingAndGlyphs">30</text>
<text x="376.56" y="281.60" font-size="12.3" textLength="14.20" lengthAdjust="spacingAndGlyphs">40</text>
<text x="414.98" y="281.60" font-size="12.3" textLength="14.43" lengthAdjust="spacingAndGlyphs">50</text>
<text x="453.48" y="281.60" font-size="12.3" textLength="14.58" lengthAdjust="spacingAndGlyphs">60</text>
<text x="61.36" y="296.80" font-size="11.9" textLength="154.40" lengthAdjust="spacingAndGlyphs">indium concentration (%)</text>
<text x="305.26" y="296.80" font-size="11.9" textLength="154.40" lengthAdjust="spacingAndGlyphs">indium concentration (%)</text>
<text x="482.06" y="13.84" font-size="12.0" textLength="41.55" lengthAdjust="spacingAndGlyphs">5.9924</text>
<text x="482.05" y="30.68" font-size="12.0" textLength="41.80" lengthAdjust="spacingAndGlyphs">5.9359</text>
<text x="482.06" y="47.52" font-size="12.0" textLength="41.55" lengthAdjust="spacingAndGlyphs">5.8794</text>
<text x="482.05" y="64.36" font-size="12.0" textLength="41.74" lengthAdjust="spacingAndGlyphs">5.8228</text>
<text x="482.05" y="81.20" font-size="12.0" textLength="41.76" lengthAdjust="spacingAndGlyphs">5.7633</text>
<text x="482.05" y="98.04" font-size="12.0" textLength="41.74" lengthAdjust="spacingAndGlyphs">5.7098</text>
<text x="482.05" y="114.88" font-size="12.0" textLength="41.84" lengthAdjust="spacingAndGlyphs">5.6532</text>
<text x="482.05" y="131.72" font-size="12.0" textLength="41.84" lengthAdjust="spacingAndGlyphs">5.5967</text>
<text x="46.13" y="15.60" font-size="12.4" textLength="17.14" lengthAdjust="spacingAndGlyphs">(a)</text>
<text x="292.37" y="15.40" font-size="12.4" textLength="18.37" lengthAdjust="spacingAndGlyphs">(b)</text>
<text x="44.42" y="157.40" font-size="12.4" textLength="16.56" lengthAdjust="spacingAndGlyphs">(c)</text>
<text x="291.11" y="157.40" font-size="12.4" textLength="17.53" lengthAdjust="spacingAndGlyphs">(d)</text>
<text x="83.08" y="106.80" font-size="12.3" textLength="7.65" lengthAdjust="spacingAndGlyphs">A</text>
<text x="85.96" y="70.80" font-size="12.3" textLength="7.65" lengthAdjust="spacingAndGlyphs">B</text>
<text x="197.46" y="26.70" font-size="12.3" textLength="10.58" lengthAdjust="spacingAndGlyphs">M</text>
<text x="329.34" y="66.00" font-size="12.3" textLength="7.01" lengthAdjust="spacingAndGlyphs">E</text>
<text x="328.67" y="105.30" font-size="12.3" textLength="8.90" lengthAdjust="spacingAndGlyphs">C</text>
<text x="445.21" y="25.70" font-size="12.3" textLength="10.09" lengthAdjust="spacingAndGlyphs">M</text>
<text transform="translate(19.40,92.94) rotate(-90)" font-size="12.5" textLength="13.71" lengthAdjust="spacingAndGlyphs">&#916;b</text>
<text transform="translate(23.90,78.08) rotate(-90)" font-size="9.3" textLength="9.24" lengthAdjust="spacingAndGlyphs">zz</text>
<text transform="translate(10.70,79.57) rotate(-90)" font-size="10.0" textLength="15.54" lengthAdjust="spacingAndGlyphs">224</text>
<path d="M1.84 68.43V64.80" stroke="#262626" stroke-width="0.8"/>
<text transform="translate(19.50,61.17) rotate(-90)" font-size="12.5" textLength="21.74" lengthAdjust="spacingAndGlyphs">(%)</text>
<text transform="translate(251.00,82.14) rotate(-90)" font-size="12.5" textLength="6.32" lengthAdjust="spacingAndGlyphs">b</text>
<text transform="translate(256.00,75.73) rotate(-90)" font-size="9.3" textLength="8.03" lengthAdjust="spacingAndGlyphs">zz</text>
<text transform="translate(243.00,75.75) rotate(-90)" font-size="10.0" textLength="14.91" lengthAdjust="spacingAndGlyphs">224</text>
<path d="M234.14 65.06V61.58" stroke="#262626" stroke-width="0.8"/>
<text transform="translate(251.00,62.17) rotate(-90)" font-size="12.5" textLength="18.74" lengthAdjust="spacingAndGlyphs">(&#197;)</text>
<text transform="translate(278.10,86.13) rotate(-90)" font-size="12.5" textLength="13.33" lengthAdjust="spacingAndGlyphs">&#916;a</text>
<text transform="translate(283.60,72.03) rotate(-90)" font-size="9.3" textLength="8.14" lengthAdjust="spacingAndGlyphs">zz</text>
<text transform="translate(269.30,72.78) rotate(-90)" font-size="10.0" textLength="16.17" lengthAdjust="spacingAndGlyphs">220</text>
<path d="M260.44 66.59V62.81" stroke="#262626" stroke-width="0.8"/>
<text transform="translate(278.00,58.21) rotate(-90)" font-size="12.5" textLength="22.82" lengthAdjust="spacingAndGlyphs">(%)</text>
<text transform="translate(544.90,82.47) rotate(-90)" font-size="12.5" textLength="6.28" lengthAdjust="spacingAndGlyphs">a</text>
<text transform="translate(549.70,76.07) rotate(-90)" font-size="9.3" textLength="9.02" lengthAdjust="spacingAndGlyphs">zz</text>
<text transform="translate(537.20,77.50) rotate(-90)" font-size="10.0" textLength="16.80" lengthAdjust="spacingAndGlyphs">220</text>
<path d="M528.34 71.06V67.14" stroke="#262626" stroke-width="0.8"/>
<text transform="translate(544.70,57.44) rotate(-90)" font-size="12.5" textLength="18.08" lengthAdjust="spacingAndGlyphs">(&#197;)</text>
<text transform="translate(17.00,224.31) rotate(-90)" font-size="12.5" textLength="6.71" lengthAdjust="spacingAndGlyphs">&#949;</text>
<text transform="translate(21.80,217.16) rotate(-90)" font-size="9.3" textLength="8.80" lengthAdjust="spacingAndGlyphs">zz</text>
<text transform="translate(9.10,216.95) rotate(-90)" font-size="10.0" textLength="14.91" lengthAdjust="spacingAndGlyphs">224</text>
<path d="M0.24 206.26V202.78" stroke="#262626" stroke-width="0.8"/>
<text transform="translate(17.20,199.69) rotate(-90)" font-size="12.5" textLength="22.28" lengthAdjust="spacingAndGlyphs">(%)</text>
<text transform="translate(278.80,224.82) rotate(-90)" font-size="12.5" textLength="6.82" lengthAdjust="spacingAndGlyphs">&#949;</text>
<text transform="translate(283.60,216.68) rotate(-90)" font-size="9.3" textLength="9.35" lengthAdjust="spacingAndGlyphs">zz</text>
<text transform="translate(270.30,217.79) rotate(-90)" font-size="10.0" textLength="16.38" lengthAdjust="spacingAndGlyphs">220</text>
<path d="M261.44 211.51V207.69" stroke="#262626" stroke-width="0.8"/>
<text transform="translate(278.80,200.21) rotate(-90)" font-size="12.5" textLength="22.82" lengthAdjust="spacingAndGlyphs">(%)</text>
</svg>
</body></html>
